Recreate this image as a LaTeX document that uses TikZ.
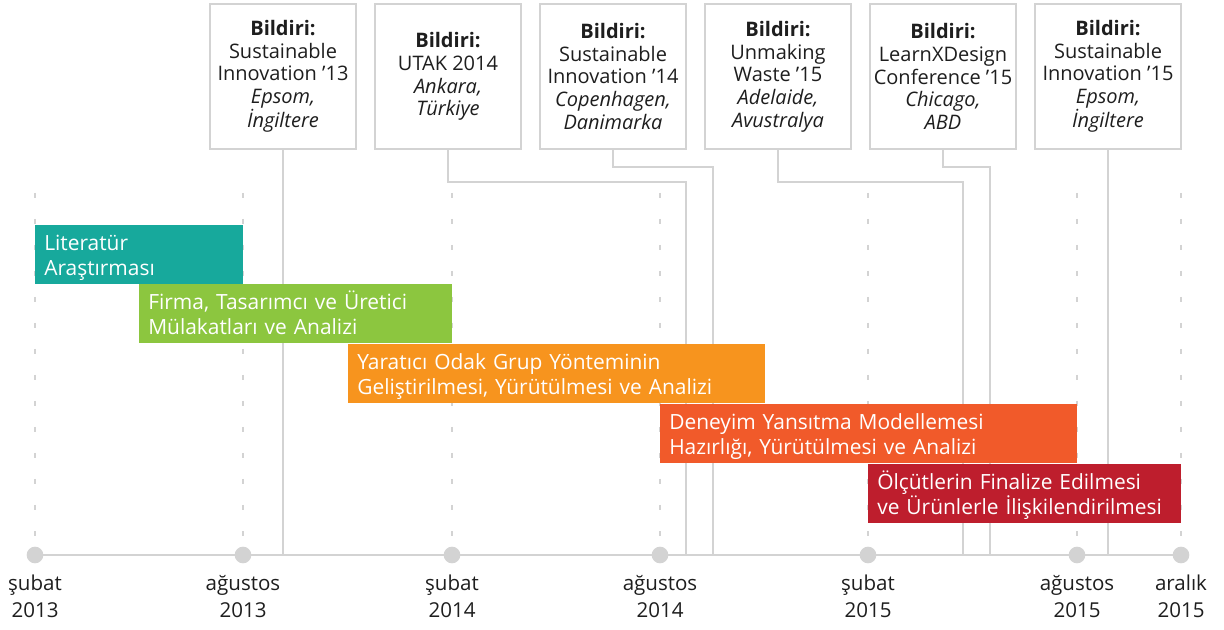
\documentclass[tikz,border=0pt]{standalone}
\usepackage{fontspec}
\setmainfont{Open Sans}
\usetikzlibrary{calc}

\definecolor{cTeal}{HTML}{17A99C}
\definecolor{cGreen}{HTML}{8CC63F}
\definecolor{cOrange}{HTML}{F7941E}
\definecolor{cRedOr}{HTML}{F15A2A}
\definecolor{cCrimson}{HTML}{BE1E2D}
\definecolor{cLine}{HTML}{D3D3D3}
\definecolor{cText}{HTML}{1E1E1E}

\tikzset{
  evbox/.style={draw=cLine, line width=1.5pt, fill=white, anchor=north,
    minimum width=110pt, minimum height=108.75pt, inner sep=0pt,
    align=center, text=cText,
    font=\fontsize{15pt}{17pt}\selectfont},
  phase/.style 2 args={fill=#1, text=white, anchor=north west,
    inner xsep=6.75pt, inner ysep=0pt, minimum height=44.25pt,
    text width=#2, text height=16pt, text depth=22.75pt, align=left,
    font=\fontsize{15.7pt}{18.75pt}\selectfont},
  guide/.style={cLine, line width=0.9pt, dash pattern=on 4pt off 15.5pt},
  axisline/.style={cLine, line width=1.5pt},
  link/.style={cLine, line width=1.2pt},
  tickdot/.style={circle, fill=cLine, minimum size=12.5pt, inner sep=0pt},
  ticklabel/.style={anchor=north, align=center, text=cText, inner sep=0pt,
    font=\fontsize{15.4pt}{20pt}\selectfont},
}

\begin{document}
\begin{tikzpicture}[x=0.75pt, y=-0.75pt]
  \useasboundingbox (0,0) rectangle (1224,630);

  % dashed month guides
  \foreach \gx in {35,243,452,660,868,1077,1181}
    \draw[guide] (\gx,193) -- (\gx,548);

  % time axis
  \coordinate (axL) at (35,555);
  \coordinate (axR) at (1181,555);
  \draw[axisline] (axL) -- (axR);

  % conference boxes
  \node[evbox] (b1) at (283,3) {\textbf{Bildiri:}\\Sustainable\\Innovation ’13\\\textit{Epsom,}\\\textit{İngiltere}};
  \node[evbox] (b2) at (448,3) {\textbf{Bildiri:}\\UTAK 2014\\\textit{Ankara,}\\\textit{Türkiye}};
  \node[evbox] (b3) at (613,3) {\textbf{Bildiri:}\\Sustainable\\Innovation ’14\\\textit{Copenhagen,}\\\textit{Danimarka}};
  \node[evbox] (b4) at (778,3) {\textbf{Bildiri:}\\Unmaking\\Waste ’15\\\textit{Adelaide,}\\\textit{Avustralya}};
  \node[evbox] (b5) at (943,3) {\textbf{Bildiri:}\\LearnXDesign\\Conference ’15\\\textit{Chicago,}\\\textit{ABD}};
  \node[evbox] (b6) at (1108,3) {\textbf{Bildiri:}\\Sustainable\\Innovation ’15\\\textit{Epsom,}\\\textit{İngiltere}};

  % connector end points on the axis
  \coordinate (e1) at (283,555);
  \coordinate (e2) at (686,555);
  \coordinate (e3) at (713,555);
  \coordinate (e4) at (963,555);
  \coordinate (e5) at (990,555);
  \coordinate (e6) at (1108,555);

  \draw[link] (b1.south) -- (e1);
  \draw[link] (b2.south) -- ++(0,32) -| (e2);
  \draw[link] (b3.south) -- ++(0,17) -| (e3);
  \draw[link] (b4.south) -- ++(0,32) -| (e4);
  \draw[link] (b5.south) -- ++(0,17) -| (e5);
  \draw[link] (b6.south) -- (e6);

  % project phases
  \node[phase={cTeal}{142.5pt}]    (p1) at (35,225)  {Literatür\\Araştırması};
  \node[phase={cGreen}{221.25pt}]  (p2) at (139,284) {Firma, Tasarımcı ve Üretici\\Mülakatları ve Analizi};
  \node[phase={cOrange}{299.25pt}] (p3) at (348,344) {Yaratıcı Odak Grup Yönteminin\\Geliştirilmesi, Yürütülmesi ve Analizi};
  \node[phase={cRedOr}{299.25pt}]  (p4) at (660,404) {Deneyim Yansıtma Modellemesi\\Hazırlığı, Yürütülmesi ve Analizi};
  \node[phase={cCrimson}{221.25pt}] (p5) at (868,464) {Ölçütlerin Finalize Edilmesi\\ve Ürünlerle İlişkilendirilmesi};

  % ticks and labels
  \foreach \gx/\mo/\yr [count=\i] in {35/şubat/2013, 243/ağustos/2013, 452/şubat/2014,
      660/ağustos/2014, 868/şubat/2015, 1077/ağustos/2015, 1181/aralık/2015} {
    \node[tickdot] (t\i) at (\gx,555) {};
    \node[ticklabel] (l\i) at (\gx,575) {\mo\\\yr};
  }
\end{tikzpicture}
\end{document}
